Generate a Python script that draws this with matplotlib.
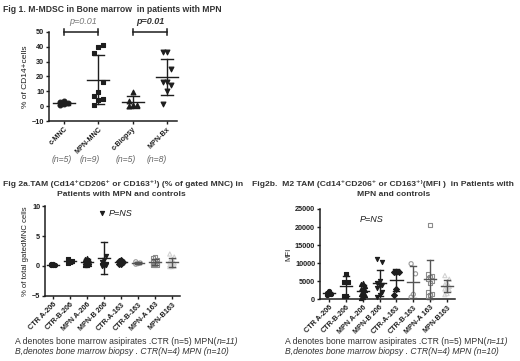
import numpy as np
import matplotlib
matplotlib.use('Agg')
import matplotlib.pyplot as plt

plt.rcParams['font.family'] = ['Liberation Sans', 'DejaVu Sans']

# ---- data ----
fig1_cats = ['c-MNC', 'MPN-MNC', 'c-Biopsy', 'MPN-Bx']
fig1_n = ['(n=5)', '(n=9)', '(n=5)', '(n=8)']
fig1_vals = [
    [3.2, 2.8, 1.8, 1.5, 0.5],
    [41, 40, 36, 16, 9.5, 7, 5, 4, 1],
    [9.5, 3.5, 1.0, 0.5, 0.0],
    [36.5, 36.5, 25, 16.5, 16.5, 14, 10, 1.5],
]

tam_cats = ['CTR A-206', 'CTR-B-206', 'MPN A-206', 'MPN-B 206',
            'CTR-A-163', 'CTR-B-163', 'MPN-A 163', 'MPN-B163']
tam_pct = [
    [0.4, 0.3, 0.2, 0.15, 0.1],
    [1.1, 0.9, 0.6, 0.5],
    [1.4, 1.2, 1.0, 0.9, 0.7, 0.6, 0.5, 0.4, 0.3, 0.2, 0.1],
    [8.8, 1.6, 1.0, 0.6, 0.4, 0.3, 0.2, 0.1, 0.05, 0.0],
    [1.0, 0.9, 0.7, 0.4, 0.3],
    [0.7, 0.5, 0.4, 0.3],
    [1.5, 1.4, 1.0, 0.8, 0.6, 0.5, 0.4, 0.3, 0.2, 0.1, 0.1],
    [2.0, 1.5, 1.0, 0.7, 0.5, 0.3, 0.2, 0.0, -0.1, -0.1],
]
tam_mfi = [
    [2200, 1800, 1500, 1300, 1100],
    [6900, 4800, 4800, 900, 800],
    [4500, 4200, 3500, 3000, 2800, 2500, 2000, 1500, 1000, 600, 300],
    [11000, 10200, 5000, 4500, 4000, 3500, 3000, 2000, 1000, 500],
    [7600, 7500, 7400, 2800, 1000],
    [9800, 7000, 1300, 500],
    [20500, 7000, 6500, 6000, 5500, 5000, 4500, 2000, 1500, 1000, 800],
    [6500, 5500, 4500, 4000, 3500, 3000, 2800, 2500, 1500, 1200],
]

DARK = '#1e1e1e'
W, H = 520, 361
fig = plt.figure(figsize=(W / 100, H / 100), dpi=100)


def px_axes(l, t, r, b):
    return fig.add_axes([l / W, 1 - b / H, (r - l) / W, (b - t) / H])


def ftext(x, y, s, **kw):
    return fig.text(x / W, 1 - y / H, s, **kw)


def style(ax):
    for s in ('top', 'right'):
        ax.spines[s].set_visible(False)
    for s in ('left', 'bottom'):
        ax.spines[s].set_linewidth(1.1)
        ax.spines[s].set_color(DARK)
    ax.tick_params(direction='out', length=2.5, width=1, colors=DARK,
                   labelsize=5.2, pad=1)
    for lab in ax.get_yticklabels():
        lab.set_fontweight('bold')


def column(ax, x, vals, marker, color, filled, ms, spread, mw, cw, lc=DARK):
    vals = np.asarray(vals, float)
    order = np.argsort(vals)
    offs = np.zeros(len(vals))
    for k, i in enumerate(order):
        offs[i] = ((k % 3) - 1) * spread
    ax.scatter(x + offs, vals, marker=marker, s=ms,
               facecolors=color if filled else 'none',
               edgecolors=color, linewidths=0.8, zorder=3, clip_on=False)
    m, sd = vals.mean(), vals.std(ddof=1)
    kw = dict(color=lc, lw=1.0, zorder=4, clip_on=False)
    ax.plot([x - mw, x + mw], [m, m], **kw)
    ax.plot([x, x], [m - sd, m + sd], **kw)
    ax.plot([x - cw, x + cw], [m + sd, m + sd], **kw)
    ax.plot([x - cw, x + cw], [m - sd, m - sd], **kw)


# ---- Fig 1 ----
ax1 = px_axes(49, 32, 177, 121)
ax1.set_xlim(-0.44, 3.29)
ax1.set_ylim(-10, 50)
ax1.set_yticks([-10, 0, 10, 20, 30, 40, 50])
ax1.set_xticks(range(4))
ax1.set_xticklabels(fig1_cats, rotation=45, ha='right', rotation_mode='anchor',
                    fontsize=5.5, fontweight='bold')
style(ax1)
for i, (vals, mk) in enumerate(zip(fig1_vals, ['o', 's', '^', 'v'])):
    column(ax1, i, vals, mk, DARK, True, 12, 0.12, 0.32, 0.17)
for a, b in [(0, 1), (2, 3)]:
    kw = dict(color=DARK, lw=1.1, clip_on=False)
    ax1.plot([a, b], [50, 50], **kw)
    ax1.plot([a, a], [48, 52], **kw)
    ax1.plot([b, b], [48, 52], **kw)
ax1.set_ylabel('% of CD14+cells', fontsize=6, labelpad=2, color=DARK)

ftext(3, 10, 'Fig 1. M-MDSC in Bone marrow  in patients with MPN',
      fontsize=6.2, fontweight='bold', color='#333333', va='center')
ftext(83, 22, 'p=0.01', fontsize=6.5, style='italic', color='#777777',
      ha='center', va='center')
ftext(150, 22, 'p=0.01', fontsize=6.5, style='italic', fontweight='bold',
      color='#333333', ha='center', va='center')
for x, s in zip([62, 90, 126, 157], fig1_n):
    ftext(x, 160, s, fontsize=6.2, style='italic', color='#666666',
          ha='center', va='center')

# ---- Fig 2 panels ----
markers2 = ['o', 's', '^', 'v', 'D', 'o', 's', '^']
colors2 = [DARK, DARK, DARK, DARK, DARK, '#9a9a9a', '#8c8c8c', '#d2d2d2']
filled2 = [True, True, True, True, True, False, False, False]
lines2 = [DARK] * 5 + ['#555555', '#555555', '#555555']

ax2 = px_axes(45, 206, 180, 296)
ax2.set_xlim(-0.47, 7.47)
ax2.set_ylim(-5, 10)
ax2.set_yticks([-5, 0, 5, 10])
ax2.set_xticks(range(8))
ax2.set_xticklabels(tam_cats, rotation=45, ha='right', rotation_mode='anchor',
                    fontsize=4.8, fontweight='bold')
style(ax2)
for i, vals in enumerate(tam_pct):
    column(ax2, i, vals, markers2[i], colors2[i], filled2[i], 9, 0.13,
           0.36, 0.18, lines2[i])
ax2.set_ylabel('% of total gatedMNC cells', fontsize=5.6, labelpad=2,
               color=DARK)
ax2.text(3.25, 8.8, 'P=NS', fontsize=6.5, style='italic', color=DARK,
         va='center')

ax3 = px_axes(320, 209, 455, 299)
ax3.set_xlim(-0.53, 7.47)
ax3.set_ylim(0, 25000)
ax3.set_yticks([0, 5000, 10000, 15000, 20000, 25000])
ax3.set_xticks(range(8))
ax3.set_xticklabels(tam_cats, rotation=45, ha='right', rotation_mode='anchor',
                    fontsize=4.8, fontweight='bold')
style(ax3)
for i, vals in enumerate(tam_mfi):
    column(ax3, i, vals, markers2[i], colors2[i], filled2[i], 9, 0.13,
           0.36, 0.18, lines2[i])
ax3.set_ylabel('MFI', fontsize=5.6, labelpad=2, color=DARK)
ax3.text(1.85, 22200, 'P=NS', fontsize=6.5, style='italic', color=DARK,
         va='center')

ftext(123, 184, 'Fig 2a.TAM (Cd14⁺CD206⁺ or CD163⁺⁾) (% of gated MNC) in',
      fontsize=6.1, fontweight='bold', color='#333333', ha='center', va='center')
ftext(121, 194, 'Patients with MPN and controls', fontsize=6.1,
      fontweight='bold', color='#333333', ha='center', va='center')
ftext(383, 184, 'Fig2b.  M2 TAM (Cd14⁺CD206⁺ or CD163⁺⁾(MFI )  in Patients with',
      fontsize=6.1, fontweight='bold', color='#333333', ha='center', va='center')
ftext(394, 194, 'MPN and controls', fontsize=6.1, fontweight='bold',
      color='#333333', ha='center', va='center')

# footnotes with mixed italic
renderer = fig.canvas.get_renderer()
for x0 in (15, 285):
    t = ftext(x0, 342, 'A denotes bone marrow asipirates .CTR (n=5) MPN(',
              fontsize=6.2, color='#333333', va='center')
    bb = t.get_window_extent(renderer)
    fig.text(bb.x1 / W, 1 - 342 / H, 'n=11)', fontsize=6.2, style='italic',
             color='#333333', va='center')
    ftext(x0, 352, 'B,denotes bone marrow biopsy . CTR(N=4) MPN (n=10)',
          fontsize=6.2, style='italic', color='#333333', va='center')

fig.savefig('out.png', dpi=100)
